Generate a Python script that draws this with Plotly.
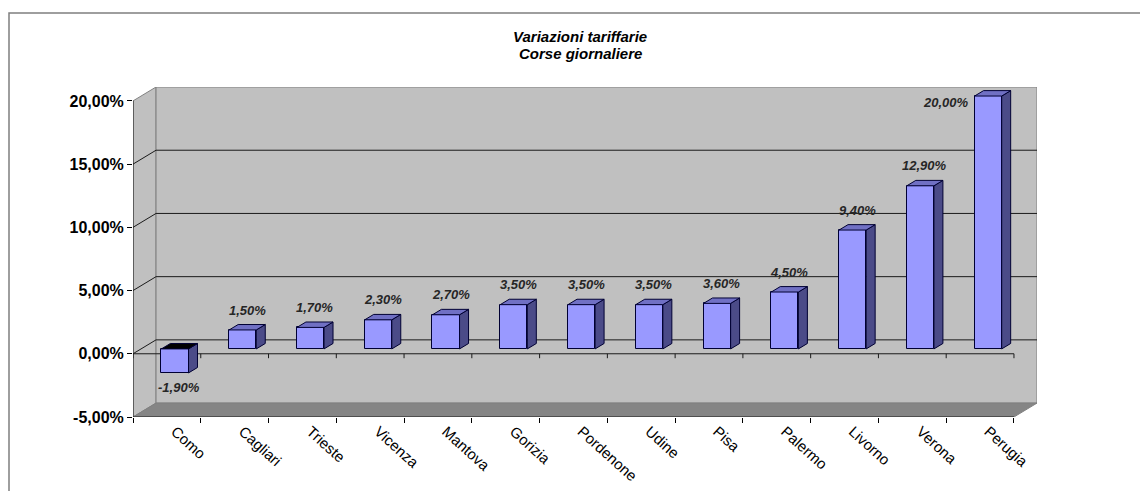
import plotly.graph_objects as go

# ---- data ----
categories = ["Como", "Cagliari", "Trieste", "Vicenza", "Mantova", "Gorizia",
              "Pordenone", "Udine", "Pisa", "Palermo", "Livorno", "Verona", "Perugia"]
values = [-1.9, 1.5, 1.7, 2.3, 2.7, 3.5, 3.5, 3.5, 3.6, 4.5, 9.4, 12.9, 20.0]
y_ticks = [-5, 0, 5, 10, 15, 20]
title_lines = ["Variazioni tariffarie", "Corse giornaliere"]


def pct(v):
    return f"{v:.2f}%".replace(".", ",")


# ---- pseudo-3D geometry (in data units) ----
n = len(categories)
DX, DY = 0.34, 1.1          # wall depth offset
F0, F1 = 0.35, 0.74         # bar front/back depth fraction
BW = 0.40                   # bar front width
YMIN, YMAX = y_ticks[0], y_ticks[-1]
XL, XR = -0.5, n - 0.5
sdx, sdy = (F1 - F0) * DX, (F1 - F0) * DY
base = F0 * DY
LABEL_SHIFT = 0.12          # category labels start slightly right of centre

FONT = "Liberation Sans, Arial, sans-serif"
WALL = "#C0C0C0"
FLOOR = "#858585"
EDGE = "#808080"

PLOT_T, PLOT_B, PLOT_L, PLOT_R = 87, 417, 133, 1037
W, H = 1140, 491


def py2paper(py):
    return (PLOT_B - py) / (PLOT_B - PLOT_T)


def px2paper(px):
    return (px - PLOT_L) / (PLOT_R - PLOT_L)


def path(pts):
    return "M " + " L ".join(f"{x},{y}" for x, y in pts) + " Z"


shapes = []
# left side wall
shapes.append(dict(type="path", xref="x", yref="y", layer="below",
                   path=path([(XL, YMIN), (XL, YMAX), (XL + DX, YMAX + DY), (XL + DX, YMIN + DY)]),
                   fillcolor=WALL, line=dict(color=EDGE, width=1)))
# back wall
shapes.append(dict(type="rect", xref="x", yref="y", layer="below",
                   x0=XL + DX, x1=XR + DX, y0=YMIN + DY, y1=YMAX + DY,
                   fillcolor=WALL, line=dict(color=EDGE, width=1)))
# floor
shapes.append(dict(type="path", xref="x", yref="y", layer="below",
                   path=path([(XL, YMIN), (XR, YMIN), (XR + DX, YMIN + DY), (XL + DX, YMIN + DY)]),
                   fillcolor=FLOOR, line=dict(color=EDGE, width=1)))
# gridlines on back wall + left wall diagonals
for t in y_ticks[1:-1]:
    shapes.append(dict(type="line", xref="x", yref="y", layer="below",
                       x0=XL + DX, x1=XR + DX, y0=t + DY, y1=t + DY,
                       line=dict(color="#1a1a1a", width=1)))
    shapes.append(dict(type="line", xref="x", yref="y", layer="below",
                       x0=XL, x1=XL + DX, y0=t, y1=t + DY,
                       line=dict(color="#1a1a1a", width=1)))
# front zero line with ticks
shapes.append(dict(type="line", xref="x", yref="y", layer="below",
                   x0=XL, x1=XR, y0=0, y1=0, line=dict(color="#1a1a1a", width=1)))
for i in range(n + 1):
    shapes.append(dict(type="line", xref="x", yref="y", layer="below",
                       x0=XL + i, x1=XL + i, y0=0, y1=-0.35,
                       line=dict(color="#1a1a1a", width=1)))
# front floor edge and front value axis line
shapes.append(dict(type="line", xref="x", yref="y", layer="below",
                   x0=XL, x1=XR, y0=YMIN, y1=YMIN, line=dict(color="#1a1a1a", width=1)))
shapes.append(dict(type="line", xref="x", yref="y", layer="below",
                   x0=XL, x1=XL, y0=YMIN, y1=YMAX, line=dict(color="#1a1a1a", width=1)))
# outer chart frame
shapes.append(dict(type="rect", xref="paper", yref="paper", layer="below",
                   x0=px2paper(9), x1=px2paper(W + 10), y0=py2paper(H + 10), y1=py2paper(13),
                   line=dict(color="#7f7f7f", width=1.5), fillcolor="rgba(0,0,0,0)"))

# ---- bars ----
xc = [i + F0 * DX for i in range(n)]
fig = go.Figure()
fig.add_trace(go.Bar(x=xc, y=values, base=base, width=BW,
                     marker=dict(color="#9999FF", line=dict(color="#000033", width=1)),
                     hoverinfo="skip", showlegend=False))

side_x, side_y, top_x, top_y, ntop_x, ntop_y = [], [], [], [], [], []
for c, v in zip(xc, values):
    x0, x1 = c - BW / 2, c + BW / 2
    lo, hi = min(base, base + v), max(base, base + v)
    side_x += [x1, x1 + sdx, x1 + sdx, x1, x1, None]
    side_y += [lo, lo + sdy, hi + sdy, hi, lo, None]
    tx = [x0, x0 + sdx, x1 + sdx, x1, x0, None]
    ty = [hi, hi + sdy, hi + sdy, hi, hi, None]
    if v >= 0:
        top_x += tx; top_y += ty
    else:
        ntop_x += tx; ntop_y += ty

fig.add_trace(go.Scatter(x=side_x, y=side_y, mode="lines", fill="toself",
                         fillcolor="#4B4B88", line=dict(color="#000033", width=1),
                         hoverinfo="skip", showlegend=False))
fig.add_trace(go.Scatter(x=top_x, y=top_y, mode="lines", fill="toself",
                         fillcolor="#7070C4", line=dict(color="#000033", width=1),
                         hoverinfo="skip", showlegend=False))
fig.add_trace(go.Scatter(x=ntop_x, y=ntop_y, mode="lines", fill="toself",
                         fillcolor="#000000", line=dict(color="#000033", width=1),
                         hoverinfo="skip", showlegend=False))

# ---- data labels ----
annotations = []
lab_font = dict(family=FONT, size=13, color="#262626", weight="bold", style="italic")
for c, v in zip(xc, values):
    x0 = c - BW / 2
    top = base + v
    if v < 0:
        annotations.append(dict(x=c + sdx / 2, y=top, xref="x", yref="y", text=pct(v),
                                showarrow=False, yanchor="top", xanchor="center",
                                yshift=-5, font=lab_font))
    elif top + sdy + 2.0 > YMAX + DY:
        annotations.append(dict(x=x0, y=top, xref="x", yref="y", text=pct(v),
                                showarrow=False, yanchor="middle", xanchor="right",
                                xshift=-4, yshift=-6, font=lab_font))
    else:
        annotations.append(dict(x=c + sdx / 2, y=top + sdy, xref="x", yref="y", text=pct(v),
                                showarrow=False, yanchor="bottom", xanchor="center",
                                yshift=5, font=lab_font))

# title (two lines)
title_font = dict(family=FONT, size=15, color="black", weight="bold", style="italic")
for line, ty in zip(title_lines, [37, 53]):
    annotations.append(dict(x=px2paper(580), y=py2paper(ty), xref="paper", yref="paper",
                            text=line, showarrow=False, xanchor="center", yanchor="middle",
                            font=title_font))

fig.update_layout(
    width=W, height=H, autosize=False,
    margin=dict(l=PLOT_L, r=W - PLOT_R, t=PLOT_T, b=H - PLOT_B, autoexpand=False),
    paper_bgcolor="white", plot_bgcolor="white",
    shapes=shapes, annotations=annotations,
    bargap=0,
    xaxis=dict(range=[XL, XR + DX], tickmode="array",
               tickvals=[i + LABEL_SHIFT for i in range(n)],
               ticktext=categories, tickangle=42, ticks="", showgrid=False,
               zeroline=False, showline=False, ticklabelstandoff=2, automargin=False,
               tickfont=dict(family=FONT, size=15, color="black"),
               minor=dict(tickmode="array", tickvals=[XL + i for i in range(n + 1)],
                          ticks="outside", ticklen=5, tickcolor="black", showgrid=False)),
    yaxis=dict(range=[YMIN, YMAX + DY], tickmode="array", tickvals=y_ticks,
               ticktext=[pct(t) for t in y_ticks], ticks="outside", ticklen=5,
               tickcolor="black", showgrid=False, zeroline=False, showline=False,
               automargin=False,
               tickfont=dict(family=FONT, size=16, color="black", weight="bold")),
)

fig.write_html("out.html")
